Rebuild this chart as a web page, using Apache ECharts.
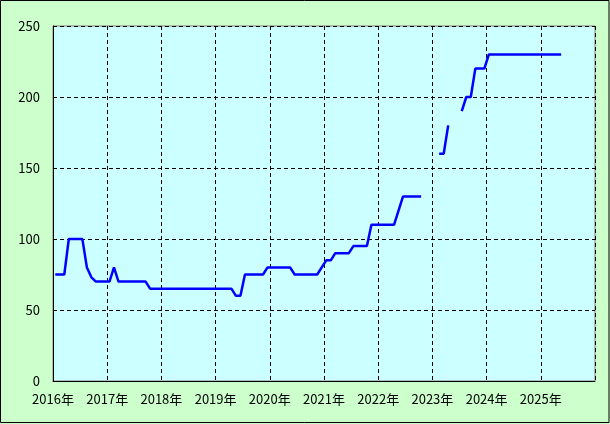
<!DOCTYPE html>
<html>
<head>
<meta charset="utf-8">
<script src="https://cdn.jsdelivr.net/npm/echarts@6/dist/echarts.min.js"></script>
<style>
html,body{margin:0;padding:0;background:#CCFFCC;}
#c{width:610px;height:424px;}
</style>
</head>
<body>
<div id="c"></div>
<script>
// Monthly values (Jan..Dec), null = no data
var years = [2016, 2017, 2018, 2019, 2020, 2021, 2022, 2023, 2024, 2025];
var v2016 = [75, 75, 75, 100, 100, 100, 100, 80, 73, 70, 70, 70];
var v2017 = [70, 80, 70, 70, 70, 70, 70, 70, 70, 65, 65, 65];
var v2018 = [65, 65, 65, 65, 65, 65, 65, 65, 65, 65, 65, 65];
var v2019 = [65, 65, 65, 65, 60, 60, 75, 75, 75, 75, 75, 80];
var v2020 = [80, 80, 80, 80, 80, 75, 75, 75, 75, 75, 75, 80];
var v2021 = [85, 85, 90, 90, 90, 90, 95, 95, 95, 95, 110, 110];
var v2022 = [110, 110, 110, 110, 120, 130, 130, 130, 130, 130, null, null];
var v2023 = [null, 160, 160, 180, null, null, 190, 200, 200, 220, 220, 220];
var v2024 = [230, 230, 230, 230, 230, 230, 230, 230, 230, 230, 230, 230];
var v2025 = [230, 230, 230, 230, 230];
var yTicks = [0, 50, 100, 150, 200, 250];

var allYears = [v2016, v2017, v2018, v2019, v2020, v2021, v2022, v2023, v2024, v2025];
var data = [];
allYears.forEach(function (arr, i) {
  arr.forEach(function (v, m) {
    data.push([years[i] + (m + 0.5) / 12, v]);
  });
});

var font = '"Noto Sans CJK JP", "Liberation Sans", sans-serif';
var chart = echarts.init(document.getElementById('c'), null, {renderer: 'canvas'});
chart.setOption({
  backgroundColor: '#CCFFCC',
  animation: false,
  grid: {
    left: 53, top: 26, right: 15, bottom: 43,
    show: true, backgroundColor: '#CCFFFF', borderColor: '#808080', borderWidth: 1
  },
  xAxis: {
    type: 'value', min: 2016, max: 2026, interval: 1,
    axisLine: {show: true, onZero: false, lineStyle: {color: '#000', width: 1}},
    axisTick: {show: false},
    axisLabel: {
      color: '#000', fontSize: 13, fontFamily: font, margin: 12,
      formatter: function (v) { return v < 2026 ? v + '年' : ''; }
    },
    splitLine: {show: true, lineStyle: {color: '#000', type: [4, 3], width: 1}}
  },
  yAxis: {
    type: 'value', min: yTicks[0], max: yTicks[yTicks.length - 1], interval: 50,
    axisLine: {show: true, lineStyle: {color: '#000', width: 1}},
    axisTick: {show: false},
    axisLabel: {color: '#000', fontSize: 13, fontFamily: font, margin: 13},
    splitLine: {show: true, lineStyle: {color: '#000', type: [4, 3], width: 1}}
  },
  series: [{
    type: 'line', data: data, showSymbol: false, connectNulls: false,
    lineStyle: {color: '#0000FF', width: 2.5}
  }],
  graphic: [{
    type: 'rect', silent: true, z: 100,
    shape: {x: 0.5, y: 0.5, width: 608.5, height: 422},
    style: {fill: 'none', stroke: '#000', lineWidth: 1}
  }]
});
</script>
</body>
</html>
